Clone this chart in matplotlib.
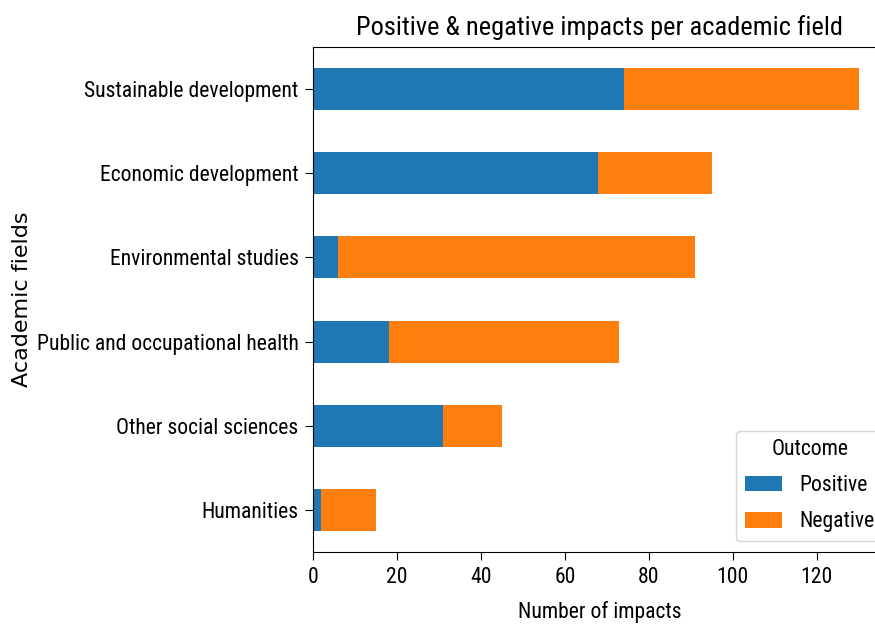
import numpy as np
import pandas as pd
import matplotlib as mpl

mpl.use("Agg")
import matplotlib.pyplot as plt
from matplotlib import font_manager

###############################################################################

fields = [
    "Sustainable development",
    "Economic development",
    "Environmental studies",
    "Public and occupational health",
    "Other social sciences",
    "Humanities",
]
positive = [74, 68, 6, 18, 31, 2]
negative = [56, 27, 85, 55, 14, 13]

###############################################################################

installed = {f.name for f in font_manager.fontManager.ttflist}
narrow = "DejaVu Sans"
for name in ["Roboto Condensed", "Liberation Sans Narrow", "DejaVu Sans Condensed"]:
    if name in installed:
        narrow = name
        break

plt.rcParams.update({"font.family": [narrow, "DejaVu Sans"], "font.size": 15.6})

# pandas draws the first row at the bottom, so flip the order
df = pd.DataFrame({"Positive": positive, "Negative": negative}, index=fields).iloc[::-1]

fig = plt.figure(figsize=(8.75, 6.24), dpi=100)
ax = fig.add_axes([313 / 875, 72 / 624, 573 / 875, 505 / 624])

df.plot.barh(stacked=True, ax=ax, color=["#1f77b4", "#ff7f0e"])

ax.tick_params(axis="both", length=5.5, pad=5)
ax.set_title("Positive & negative impacts per academic field", fontsize=19, pad=9)
ax.set_xlabel("Number of impacts", labelpad=10)
ax.set_ylabel("Academic fields", family="DejaVu Sans", fontsize=16, labelpad=3)
ax.legend(
    title="Outcome",
    loc="lower right",
    bbox_to_anchor=(1 + 8 / 573, 0),
    handlelength=1.7,
    labelspacing=0.7,
)

fig.savefig("out.png", dpi=100)
plt.close()
